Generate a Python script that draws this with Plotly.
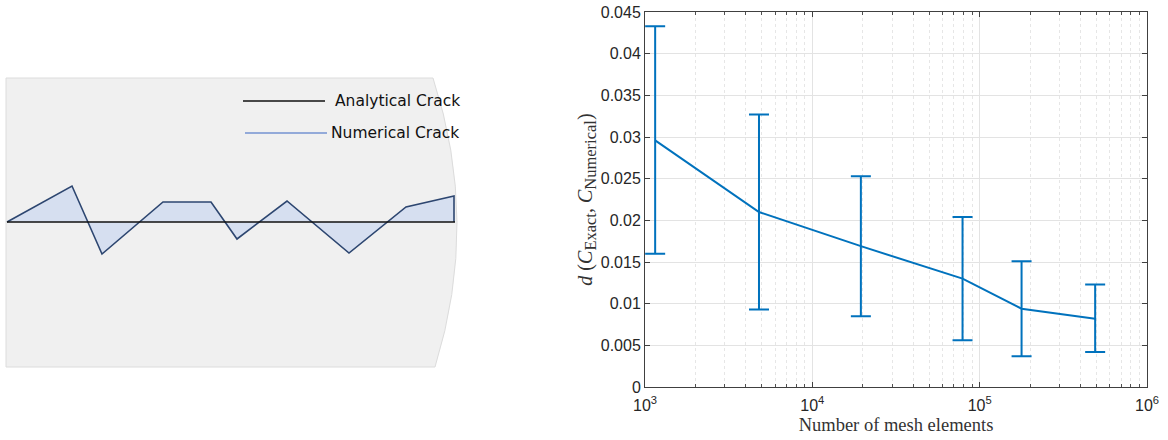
import plotly.graph_objects as go

# ---------------- data ----------------
mesh_elements = [1150, 4800, 19500, 79000, 178000, 490000]
mean_distance = [0.0296, 0.0210, 0.0169, 0.0130, 0.0094, 0.0082]
upper_bound = [0.0433, 0.0327, 0.0253, 0.0204, 0.0151, 0.0123]
lower_bound = [0.0160, 0.0093, 0.0085, 0.0056, 0.0037, 0.0042]

y_ticks = [0, 0.005, 0.01, 0.015, 0.02, 0.025, 0.03, 0.035, 0.04, 0.045]
y_tick_text = ["0", "0.005", "0.01", "0.015", "0.02", "0.025", "0.03", "0.035", "0.04", "0.045"]
x_ticks = [1e3, 1e4, 1e5, 1e6]
x_tick_text = ["10<sup>3</sup>", "10<sup>4</sup>", "10<sup>5</sup>", "10<sup>6</sup>"]
x_minor = [m * 10 ** e for e in (3, 4, 5) for m in range(2, 10)]

# schematic (left panel), in panel units
analytical_x = [7, 455]
analytical_y = [222, 222]
crack_x = [7, 72, 102, 163, 211, 237, 287, 349, 406, 454, 454]
crack_y = [222, 186, 254, 202, 202, 239, 201, 253, 207, 196, 222]

BLUE = "#0072BD"
W, H = 1168, 440

err_plus = [u - m for u, m in zip(upper_bound, mean_distance)]
err_minus = [m - l for m, l in zip(mean_distance, lower_bound)]

fig = go.Figure()

# ---- left schematic ----
fig.add_trace(go.Scatter(
    x=crack_x, y=crack_y, mode="lines", fill="toself",
    fillcolor="#d6dff0", line=dict(color="#2d4670", width=1.6),
    xaxis="x2", yaxis="y2", showlegend=False, hoverinfo="skip"))
fig.add_trace(go.Scatter(
    x=analytical_x, y=analytical_y, mode="lines",
    line=dict(color="#111111", width=1.6),
    xaxis="x2", yaxis="y2", showlegend=False, hoverinfo="skip"))
fig.add_trace(go.Scatter(
    x=[243, 325], y=[101, 101], mode="lines",
    line=dict(color="#111111", width=1.4),
    xaxis="x2", yaxis="y2", showlegend=False, hoverinfo="skip"))
fig.add_trace(go.Scatter(
    x=[245, 327], y=[133, 133], mode="lines",
    line=dict(color="#7593d2", width=1.4),
    xaxis="x2", yaxis="y2", showlegend=False, hoverinfo="skip"))

# ---- right: error bar plot ----
fig.add_trace(go.Scatter(
    x=mesh_elements, y=mean_distance, mode="lines",
    line=dict(color=BLUE, width=2),
    error_y=dict(type="data", symmetric=False, array=err_plus, arrayminus=err_minus,
                 color=BLUE, thickness=2, width=10),
    showlegend=False))

serif = "Liberation Serif, Times New Roman, serif"
ytitle = ("<i>d</i> (<i>C</i><sub><span style='font-size:16.5px'>Exact</span></sub>, "
          "<i>C</i><sub><span style='font-size:16.5px'>Numerical</span></sub>)")

fig.update_layout(
    width=W, height=H,
    margin=dict(l=0, r=0, t=0, b=0, pad=0, autoexpand=False),
    paper_bgcolor="white", plot_bgcolor="rgba(0,0,0,0)",
    font=dict(family="Liberation Sans, Arial", color="#262626", size=16),
    xaxis=dict(
        type="log", domain=[645 / W, 1147 / W], range=[3, 6], automargin=False,
        tickvals=x_ticks, ticktext=x_tick_text, ticks="inside", ticklen=5,
        ticklabelstandoff=4,
        tickcolor="#404040", tickfont=dict(size=16, color="#262626"),
        showline=True, linecolor="#404040", linewidth=1, mirror="allticks",
        showgrid=True, gridcolor="#e3e3e3", gridwidth=1,
        minor=dict(tickvals=x_minor, ticks="inside", ticklen=3, tickcolor="#505050",
                   showgrid=True, gridcolor="#e6e6e6", griddash="dot", gridwidth=1),
        zeroline=False,
        title=dict(text="Number of mesh elements",
                   font=dict(family=serif, size=18.5, color="#333333"),
                   standoff=4),
    ),
    yaxis=dict(
        domain=[(H - 387) / H, (H - 12) / H], range=[0, 0.045], automargin=False,
        tickvals=y_ticks, ticktext=y_tick_text, ticks="inside", ticklen=5,
        tickcolor="#404040", tickfont=dict(size=16, color="#262626"),
        showline=True, linecolor="#404040", linewidth=1, mirror="allticks",
        showgrid=True, gridcolor="#e3e3e3", gridwidth=1, zeroline=False,
        title=dict(text=ytitle, font=dict(family=serif, size=20, color="#333333"),
                   standoff=2),
    ),
    xaxis2=dict(domain=[0, 500 / W], range=[0, 500], visible=False, anchor="y2"),
    yaxis2=dict(domain=[0, 1], range=[H, 0], visible=False, anchor="x2"),
    shapes=[dict(type="path", xref="x2", yref="y2",
                 path="M 6,78 L 433,78 Q 480,222 435,367 L 6,367 Z",
                 fillcolor="#f0f0f0", line=dict(color="#dcdcdc", width=1), layer="below")],
    annotations=[
        dict(x=333, y=101, xref="x2", yref="y2", text="Analytical Crack", showarrow=False,
             xanchor="left", yanchor="middle",
             font=dict(family="DejaVu Sans, Verdana", size=15.5, color="#111111")),
        dict(x=329, y=133, xref="x2", yref="y2", text="Numerical Crack", showarrow=False,
             xanchor="left", yanchor="middle",
             font=dict(family="DejaVu Sans, Verdana", size=15.5, color="#111111")),
    ],
)

fig.write_html("out.html")
